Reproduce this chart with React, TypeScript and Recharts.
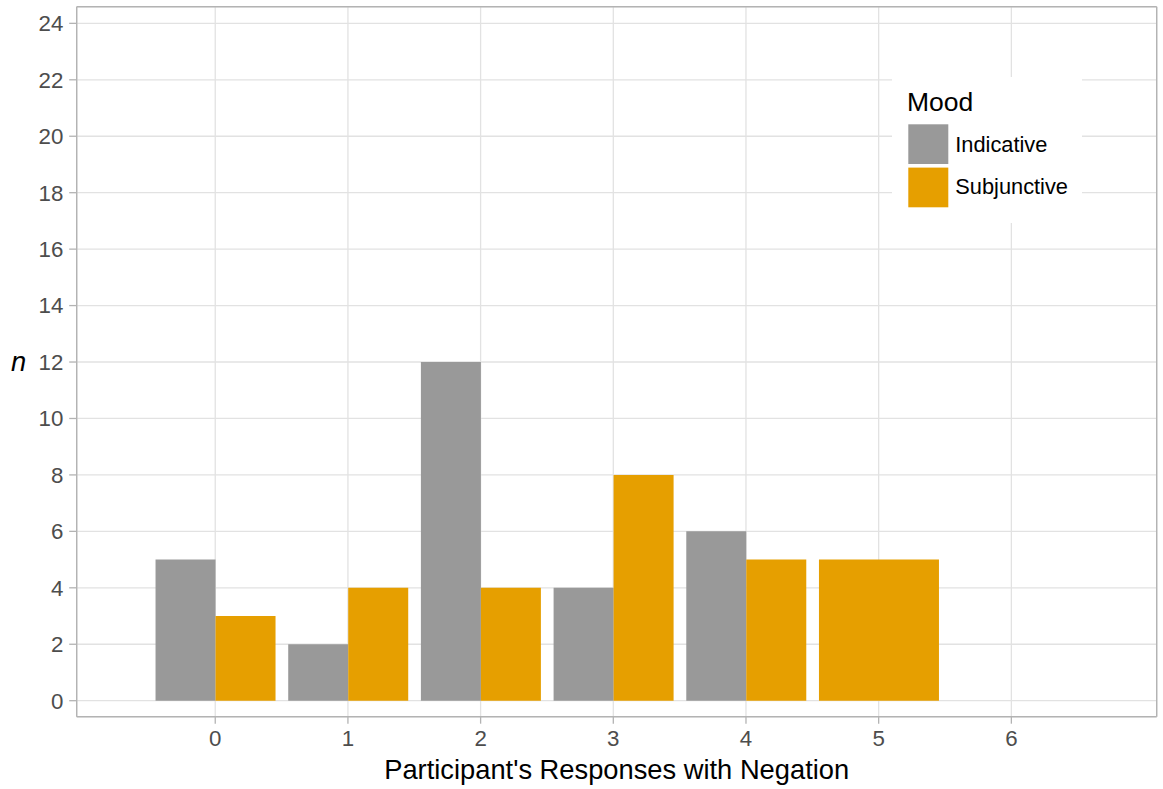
import React from 'react';
import { BarChart, Bar, XAxis, YAxis, CartesianGrid, Legend, Rectangle } from 'recharts';

const categories = ['0', '1', '2', '3', '4', '5', '6'];
const indicative: (number | null)[] = [5, 2, 12, 4, 6, null, null];
const subjunctive: (number | null)[] = [3, 4, 4, 8, 5, 5, null];
const yTicks = [0, 2, 4, 6, 8, 10, 12, 14, 16, 18, 20, 22, 24];
const seriesNames = ['Indicative', 'Subjunctive'];
const seriesColors = ['#999999', '#E69F00'];
const legendTitle = 'Mood';
const xTitle = "Participant's Responses with Negation";
const yTitle = 'n';

const data = categories.map((c, i) => ({
  x: c,
  Indicative: indicative[i],
  Subjunctive: subjunctive[i],
}));

const FONT = '"Liberation Sans", Arial, Helvetica, sans-serif';
const GRID = '#e2e2e2';
const BORDER = '#b3b3b3';
const TICK_TEXT = '#4d4d4d';
const TICK_SIZE = 22.3;
const TITLE_SIZE = 27.3;

const SubShape = (props: any) => {
  const { x, y, width, height, payload, fill } = props;
  if (height == null || height <= 0) return null;
  const alone = payload && payload.Indicative == null;
  return (
    <Rectangle
      x={alone ? x - width : x}
      y={y}
      width={alone ? width * 2 : width}
      height={height}
      fill={fill}
    />
  );
};

const LegendBox = () => (
  <svg width={190} height={146} style={{ display: 'block' }}>
    <rect x={0} y={0} width={190} height={146} fill="#ffffff" />
    <text x={15} y={34} fontSize={26.5} fontFamily={FONT} fill="#000000">
      {legendTitle}
    </text>
    {seriesNames.map((name, i) => (
      <g key={name}>
        <rect x={16.3} y={47.3 + i * 43.3} width={40} height={39.7} fill={seriesColors[i]} />
        <text x={63.3} y={75 + i * 41.6} fontSize={21.8} fontFamily={FONT} fill="#000000">
          {name}
        </text>
      </g>
    ))}
  </svg>
);

export default function App() {
  return (
    <div style={{ position: 'absolute', left: 0, top: 0, background: '#ffffff' }}>
      <BarChart
        width={1163}
        height={789}
        data={data}
        margin={{ top: 5.7, right: 5.3, bottom: 0, left: 0 }}
        barCategoryGap="5%"
        barGap={0}
      >
        <CartesianGrid stroke={GRID} strokeWidth={1.3} />
        <XAxis
          dataKey="x"
          type="category"
          height={72.3}
          padding={{ left: 72.2, right: 79 }}
          axisLine={{ stroke: BORDER, strokeWidth: 1.4 }}
          tickLine={{ stroke: BORDER, strokeWidth: 1.3 }}
          tickSize={7}
          tickMargin={6.5}
          interval={0}
          tick={{ fontSize: TICK_SIZE, fill: TICK_TEXT, fontFamily: FONT }}
          label={{
            value: xTitle,
            position: 'insideBottom',
            offset: 10,
            fontSize: TITLE_SIZE,
            fill: '#000000',
            fontFamily: FONT,
          }}
        />
        <XAxis
          xAxisId="top"
          dataKey="x"
          orientation="top"
          height={1}
          padding={{ left: 72.2, right: 79 }}
          tick={false}
          tickLine={false}
          axisLine={{ stroke: BORDER, strokeWidth: 1.4 }}
        />
        <YAxis
          type="number"
          width={76.7}
          domain={[-0.567, 24.59]}
          allowDataOverflow
          ticks={yTicks}
          interval={0}
          axisLine={{ stroke: BORDER, strokeWidth: 1.4 }}
          tickLine={{ stroke: BORDER, strokeWidth: 1.3 }}
          tickSize={7.5}
          tickMargin={5.8}
          tick={{ fontSize: TICK_SIZE, fill: TICK_TEXT, fontFamily: FONT }}
          label={{
            value: yTitle,
            position: 'insideLeft',
            offset: 11,
            fontSize: TITLE_SIZE,
            fontStyle: 'italic',
            fill: '#000000',
            fontFamily: FONT,
          }}
        />
        <YAxis
          yAxisId="right"
          orientation="right"
          width={1}
          tick={false}
          tickLine={false}
          axisLine={{ stroke: BORDER, strokeWidth: 1.4 }}
        />
        <Bar
          dataKey="Indicative"
          name={seriesNames[0]}
          fill={seriesColors[0]}
          isAnimationActive={false}
        />
        <Bar
          dataKey="Subjunctive"
          name={seriesNames[1]}
          fill={seriesColors[1]}
          shape={SubShape}
          isAnimationActive={false}
        />
        <Legend
          layout="horizontal"
          verticalAlign="middle"
          align="center"
          content={() => <LegendBox />}
          wrapperStyle={{ left: 891.7, top: 76.7, width: 190, height: 146, margin: 0, padding: 0 }}
        />
      </BarChart>
    </div>
  );
}
